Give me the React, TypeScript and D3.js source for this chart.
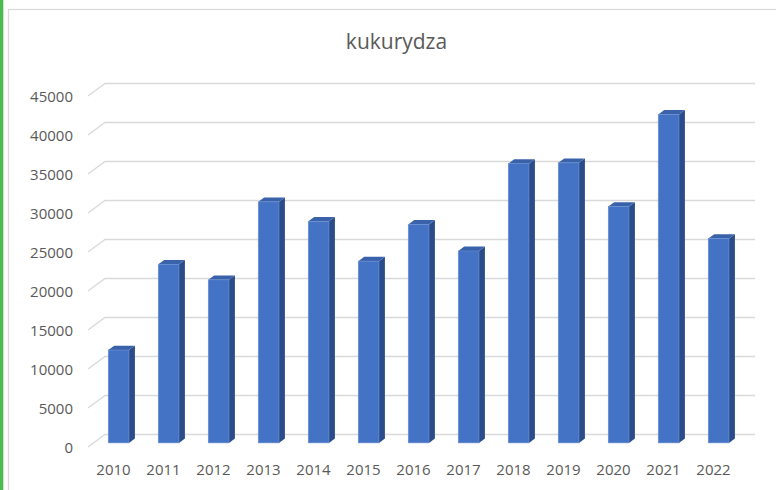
import React from "react";
import * as d3 from "d3";

const title = "kukurydza";
const years = ["2010","2011","2012","2013","2014","2015","2016","2017","2018","2019","2020","2021","2022"];
const values = [11900, 22900, 20900, 30900, 28400, 23300, 28000, 24600, 35800, 35900, 30300, 42100, 26200];
const yTicks = [0, 5000, 10000, 15000, 20000, 25000, 30000, 35000, 40000, 45000];

const W = 776, H = 490;
const DX = 17, DY = 12.5; // full depth offset
const Z0 = 0.33, Z1 = 0.68;
const FONT = "'Open Sans', 'Noto Sans', sans-serif";

export default function App() {
  const x = d3.scaleBand<string>().domain(years).range([88, 738]).paddingInner(0.586).paddingOuter(0.293);
  const y = d3.scaleLinear().domain([0, 45000]).range([447, 96]);
  const P = (px: number, py: number, z: number): [number, number] => [px + DX * z, py - DY * z];
  const w = x.bandwidth();
  const ddx = DX * (Z1 - Z0), ddy = DY * (Z1 - Z0);
  const pts = (arr: [number, number][]) => arr.map(p => p.join(",")).join(" ");

  return (
    <svg width={W} height={H} style={{ position: "absolute", left: 0, top: 0, background: "#fff" }}>
      <rect x={0} y={0} width={W} height={H} fill="#fff" />
      <rect x={0} y={0} width={3.3} height={H} fill="#4CBB4F" />
      <rect x={8.5} y={9.5} width={W + 20} height={H + 20} fill="none" stroke="#d9d9d9" strokeWidth={1.2} />
      <text x={396.5} y={48.5} textAnchor="middle" fontFamily={FONT} fontSize={21} fill="#595959">{title}</text>
      {yTicks.map(t => {
        const [fx, fy] = P(88, y(t), 0);
        const [bx, by] = P(88, y(t), 1);
        const [ex] = P(738, y(t), 1);
        return (
          <g key={t}>
            <polyline points={pts([[fx, fy], [bx, by], [ex, by]])} fill="none" stroke="#d9d9d9" strokeWidth={1.3} />
            <text x={73} y={fy + 1.5} textAnchor="end" dominantBaseline="middle" fontFamily={FONT} fontSize={15} fill="#595959">{t}</text>
          </g>
        );
      })}
      {years.map((yr, i) => {
        const bx = x(yr)!;
        const [x0, yt] = P(bx, y(values[i]), Z0);
        const [, yb] = P(bx, y(0), Z0);
        const x1 = x0 + w;
        return (
          <g key={yr}>
            <polygon points={pts([[x1, yt], [x1 + ddx, yt - ddy], [x1 + ddx, yb - ddy], [x1, yb]])} fill="#2B4C8A" />
            <polygon points={pts([[x0, yt], [x0 + ddx, yt - ddy], [x1 + ddx, yt - ddy], [x1, yt]])} fill="#3A62AA" />
            <rect x={x0} y={yt} width={w} height={yb - yt} fill="#4472C4" stroke="#6A8FD3" strokeWidth={0.6} />
          </g>
        );
      })}
      {years.map(yr => (
        <text key={yr} x={x(yr)! + w / 2 + 0.5} y={475} textAnchor="middle" fontFamily={FONT} fontSize={15} fill="#595959">{yr}</text>
      ))}
    </svg>
  );
}
